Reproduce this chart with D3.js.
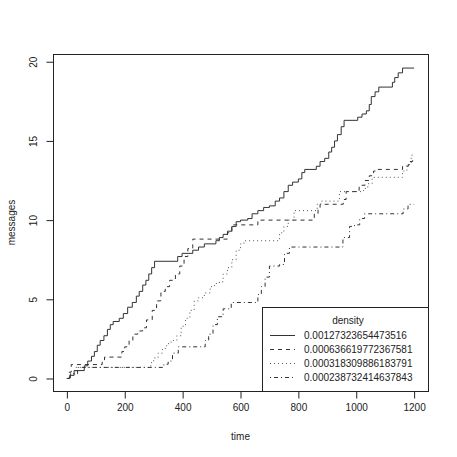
<!DOCTYPE html>
<html>
<head>
<meta charset="utf-8">
<script src="https://cdn.jsdelivr.net/npm/d3@7"></script>
<style>
  html, body { margin: 0; padding: 0; background: #fff; }
  svg { display: block; font-family: "Liberation Sans", Arial, Helvetica, sans-serif; }
</style>
</head>
<body>
<svg id="chart" width="457" height="457"></svg>
<script>
// ---- data ----
const legendTitle = "density";
const seriesNames = ["0.00127323654473516", "0.000636619772367581", "0.000318309886183791", "0.000238732414637843"];
const xTicks = [0, 200, 400, 600, 800, 1000, 1200];
const yTicks = [0, 5, 10, 15, 20];

const time1 = [0, 10, 25, 60, 72, 85, 95, 105, 115, 128, 140, 150, 160, 181, 195, 210, 226, 240, 250, 262, 273, 283, 293, 303, 383, 398, 435, 455, 475, 515, 527, 540, 555, 570, 585, 600, 625, 640, 660, 680, 700, 720, 735, 750, 765, 780, 800, 812, 822, 862, 875, 891, 905, 915, 925, 935, 948, 958, 1005, 1020, 1035, 1045, 1052, 1065, 1078, 1125, 1133, 1145, 1160, 1200];
const msgs1 = [0, 0.2, 0.5, 0.8, 1.1, 1.4, 1.7, 2.1, 2.4, 2.7, 3.1, 3.4, 3.6, 3.8, 4.1, 4.5, 4.8, 5.2, 5.5, 5.9, 6.2, 6.6, 7.0, 7.4, 7.7, 7.9, 8.1, 8.3, 8.5, 8.7, 8.9, 9.1, 9.3, 9.6, 9.9, 10.0, 10.1, 10.4, 10.6, 10.8, 10.9, 11.2, 11.4, 11.8, 12.2, 12.4, 12.6, 13.0, 13.2, 13.4, 13.7, 13.9, 14.3, 14.6, 15.0, 15.4, 15.9, 16.3, 16.5, 16.7, 16.9, 17.3, 17.8, 18.1, 18.4, 18.7, 19.0, 19.3, 19.6, 19.6];

const time2 = [0, 8, 15, 122, 130, 190, 200, 215, 228, 245, 262, 275, 295, 310, 325, 340, 355, 375, 390, 405, 418, 435, 555, 570, 660, 855, 868, 875, 955, 965, 1010, 1030, 1045, 1060, 1070, 1160, 1180, 1195, 1200];
const msgs2 = [0, 0.4, 0.88, 1.1, 1.35, 1.7, 2.0, 2.4, 2.8, 3.0, 3.2, 3.7, 4.3, 4.9, 5.5, 5.8, 6.2, 6.6, 7.1, 7.7, 8.2, 8.8, 9.2, 9.7, 10.0, 10.4, 10.7, 11.0, 11.3, 11.8, 12.2, 12.5, 12.8, 13.1, 13.2, 13.4, 13.7, 13.8, 13.8];

const time3 = [0, 10, 31, 290, 300, 315, 330, 345, 360, 380, 395, 410, 425, 440, 455, 475, 495, 510, 527, 540, 555, 570, 585, 600, 612, 735, 750, 765, 785, 865, 878, 942, 1025, 1040, 1055, 1160, 1175, 1190, 1200];
const msgs3 = [0, 0.3, 0.7, 1.0, 1.3, 1.6, 1.9, 2.2, 2.4, 2.7, 3.3, 3.8, 4.3, 4.9, 5.1, 5.4, 5.8, 6.0, 6.1, 6.6, 7.0, 7.5, 8.1, 8.5, 8.7, 9.2, 9.6, 10.0, 10.6, 11.0, 11.2, 11.8, 12.0, 12.3, 12.7, 13.1, 13.5, 14.1, 14.1];

const time4 = [0, 12, 37, 335, 350, 365, 385, 478, 490, 505, 520, 540, 568, 660, 672, 685, 700, 735, 752, 769, 954, 977, 994, 1012, 1029, 1162, 1179, 1200];
const msgs4 = [0, 0.3, 0.7, 0.9, 1.1, 1.6, 2.0, 2.4, 2.8, 3.4, 3.9, 4.4, 4.8, 5.3, 5.8, 6.4, 7.1, 7.2, 7.9, 8.3, 8.9, 9.6, 9.7, 10.1, 10.4, 10.7, 11.0, 11.0];

const seriesTimes = [time1, time2, time3, time4];
const seriesMsgs = [msgs1, msgs2, msgs3, msgs4];
const dashes = [null, "4,4", "1,3", "1,3,4,3"];
const lineColors = ["#333", "#333", "#555", "#333"];

// ---- layout ----
const svg = d3.select("#chart");
const plotL = 53, plotR = 428, plotT = 54, plotB = 391;
const x = d3.scaleLinear().domain([-48, 1248]).range([plotL, plotR]);
const y = d3.scaleLinear().domain([-0.79, 20.47]).range([plotB, plotT + 0.3]);

const fontSize = 10;
const inkColor = "#222";

// lines
const line = d3.line().x(d => x(d[0])).y(d => y(d[1])).curve(d3.curveStepAfter);
seriesTimes.forEach((ts, i) => {
  const pts = d3.zip(ts, seriesMsgs[i]);
  svg.append("path")
    .attr("d", line(pts))
    .attr("fill", "none")
    .attr("stroke", lineColors[i])
    .attr("stroke-width", 1)
    .attr("stroke-dasharray", dashes[i]);
});

// box
svg.append("rect")
  .attr("x", plotL + 0.5).attr("y", plotT + 0.5)
  .attr("width", plotR - plotL).attr("height", plotB - plotT)
  .attr("fill", "none").attr("stroke", inkColor).attr("stroke-width", 1);

// x axis
const xAxis = svg.append("g")
  .attr("transform", `translate(0,${plotB + 0.5})`)
  .call(d3.axisBottom(x).tickValues(xTicks).tickFormat(d3.format("d")).tickSize(7).tickSizeOuter(0).tickPadding(5));
xAxis.select(".domain").remove();
xAxis.selectAll("line").attr("stroke", inkColor);
xAxis.selectAll("text").attr("font-size", fontSize).attr("font-family", null).attr("fill", inkColor);

// y axis
const yAxis = svg.append("g")
  .attr("transform", `translate(${plotL + 0.5},0)`)
  .call(d3.axisLeft(y).tickValues(yTicks).tickFormat(d3.format("d")).tickSize(7).tickSizeOuter(0));
yAxis.select(".domain").remove();
yAxis.selectAll("line").attr("stroke", inkColor);
yAxis.selectAll("text")
  .attr("font-size", fontSize).attr("font-family", null).attr("fill", inkColor)
  .attr("x", null).attr("dy", null)
  .attr("text-anchor", "middle")
  .attr("dominant-baseline", "central")
  .attr("transform", "translate(-20,0) rotate(-90)");

// axis titles
svg.append("text")
  .attr("x", (plotL + plotR) / 2).attr("y", 436)
  .attr("text-anchor", "middle").attr("dominant-baseline", "central")
  .attr("font-size", fontSize).attr("fill", inkColor).text("time");
svg.append("text")
  .attr("transform", `translate(11,${(plotT + plotB) / 2}) rotate(-90)`)
  .attr("text-anchor", "middle").attr("dominant-baseline", "central")
  .attr("font-size", fontSize).attr("fill", inkColor).text("messages");

// legend
const lgX = 262.5, lgY = 307.5, lgW = plotR - 262, lgH = plotB - 307;
const lg = svg.append("g");
lg.append("rect").attr("x", lgX).attr("y", lgY).attr("width", lgW).attr("height", lgH)
  .attr("fill", "#fff").attr("stroke", inkColor).attr("stroke-width", 1);
lg.append("text").attr("x", 348).attr("y", 320)
  .attr("text-anchor", "middle").attr("dominant-baseline", "central")
  .attr("font-size", fontSize).attr("fill", inkColor).text(legendTitle);
seriesNames.forEach((name, i) => {
  const yy = 335 + i * 14;
  lg.append("line").attr("x1", 270).attr("x2", 295).attr("y1", yy + 0.5).attr("y2", yy + 0.5)
    .attr("stroke", lineColors[i]).attr("stroke-width", 1).attr("stroke-dasharray", dashes[i]);
  lg.append("text").attr("x", 304).attr("y", yy)
    .attr("dominant-baseline", "central")
    .attr("font-size", fontSize).attr("fill", inkColor).text(name);
});
</script>
</body>
</html>
